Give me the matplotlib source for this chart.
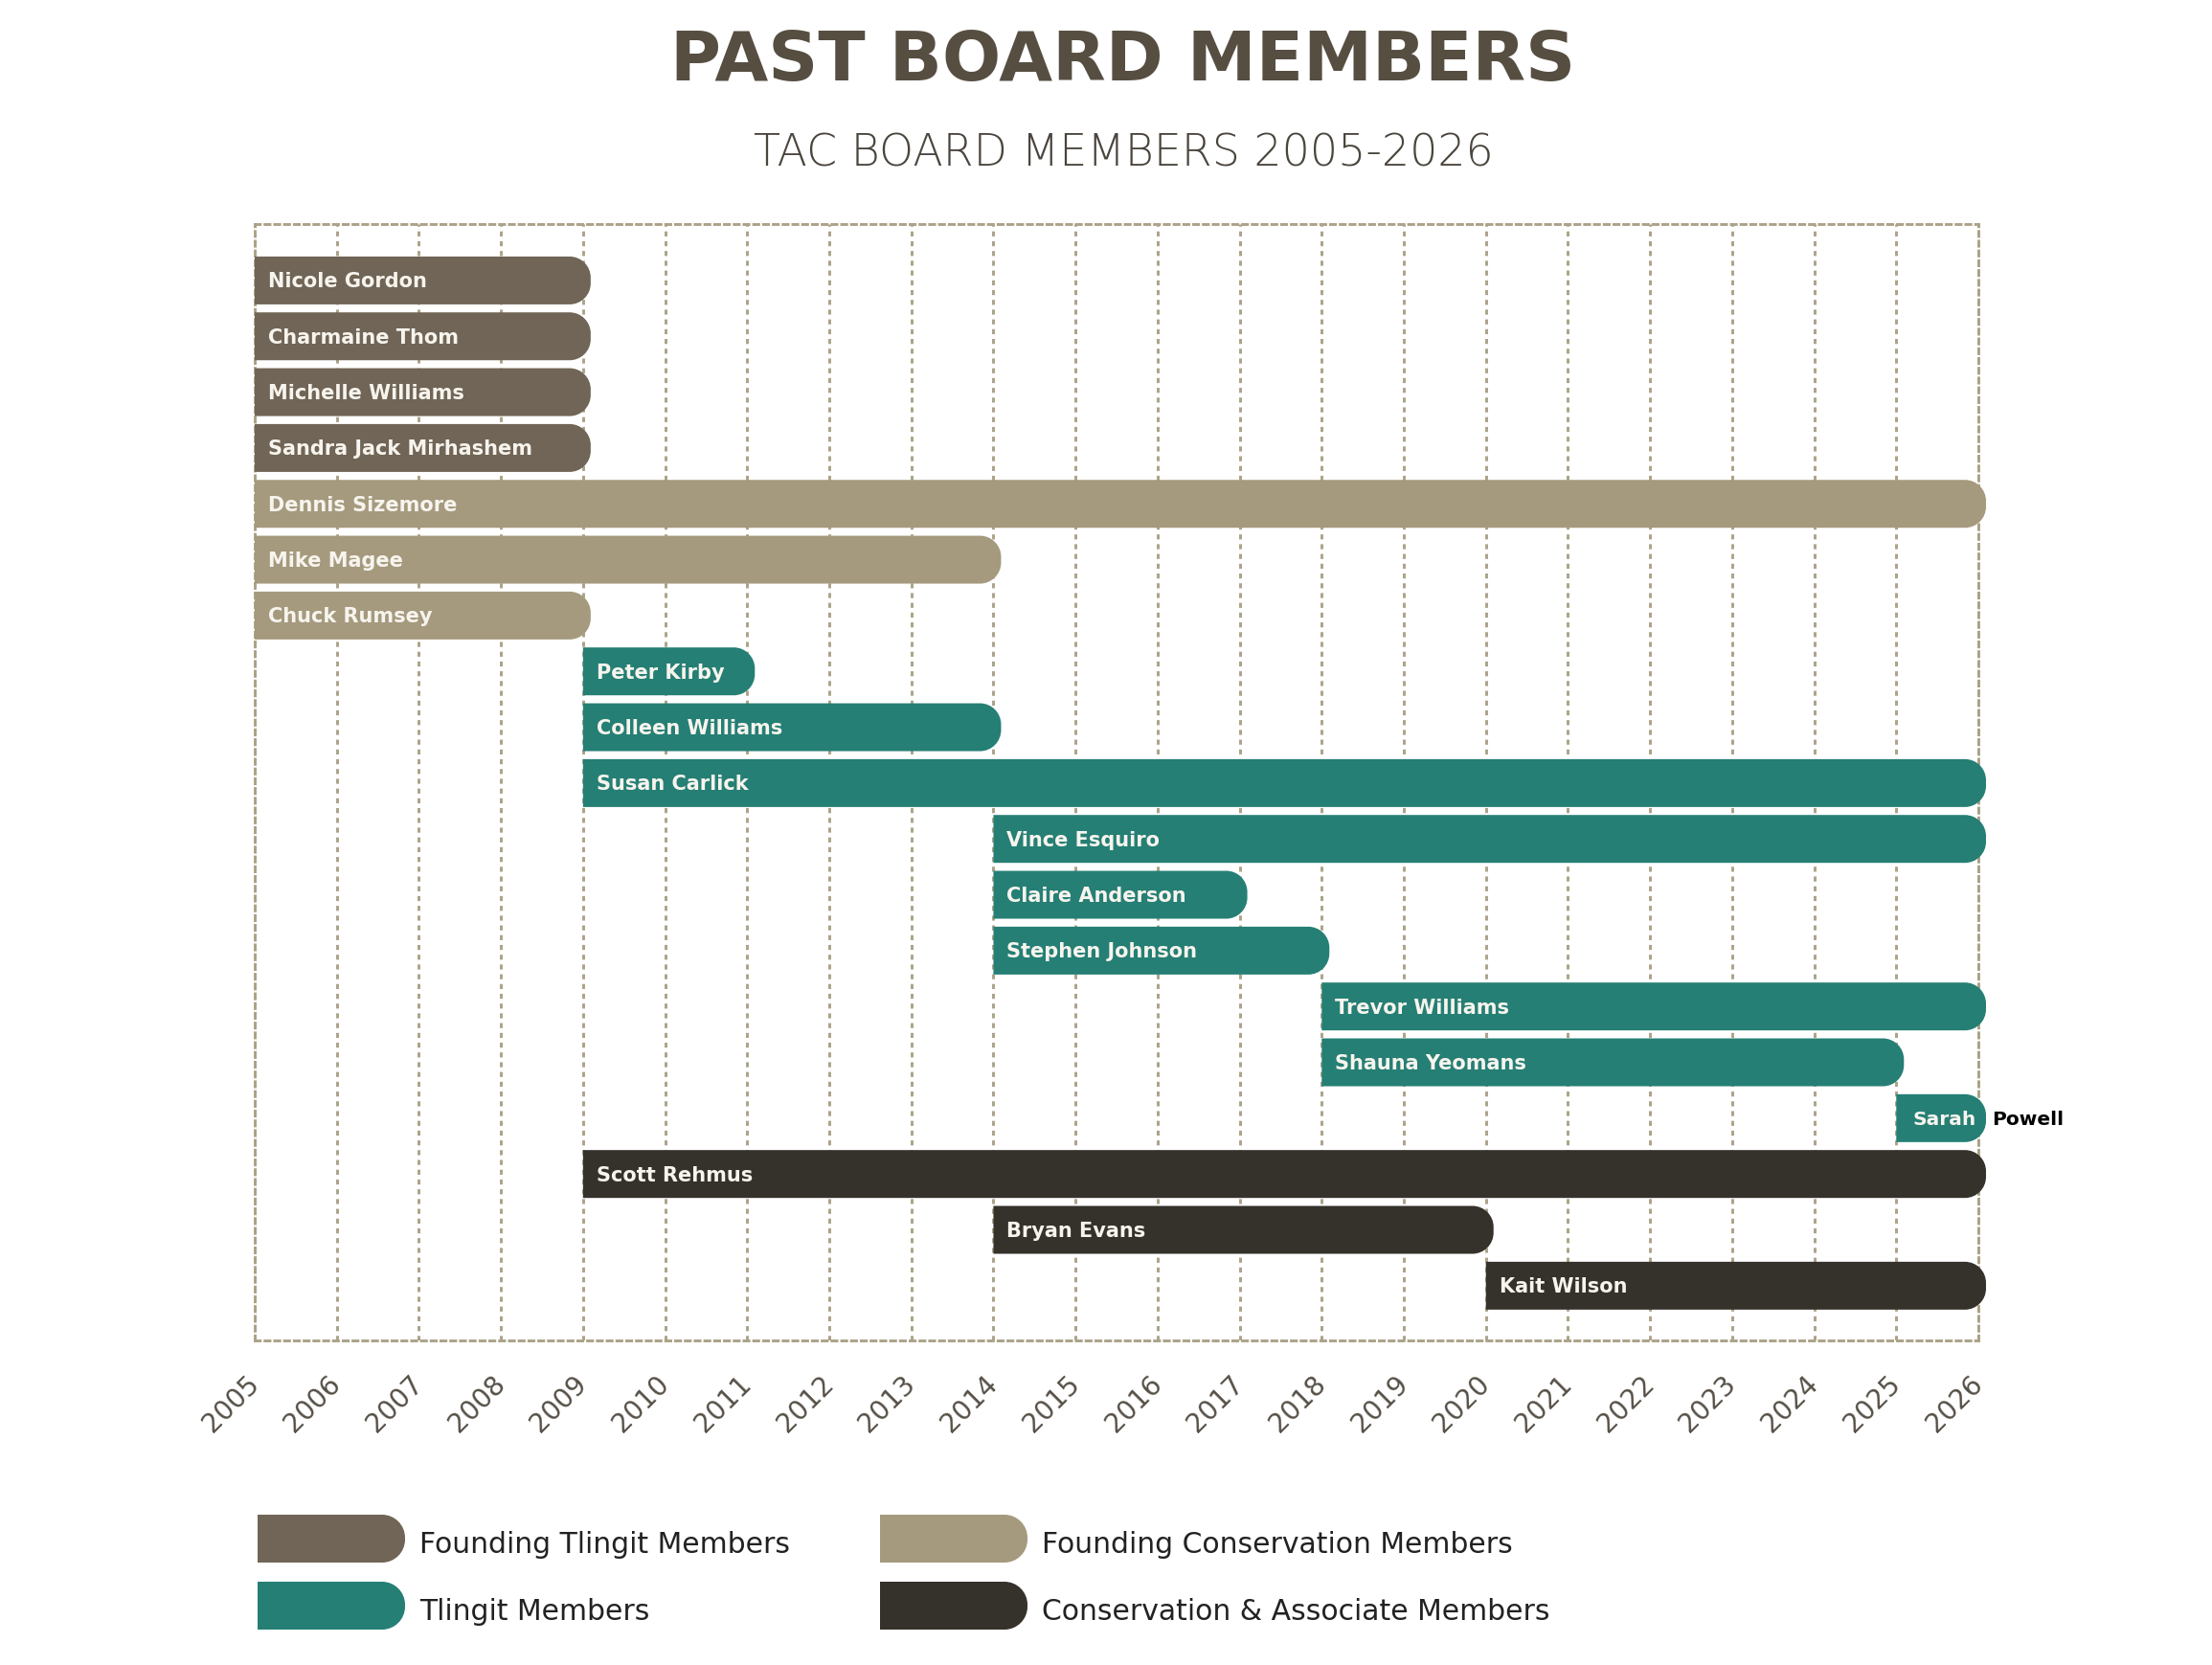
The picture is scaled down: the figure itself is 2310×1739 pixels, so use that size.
"""Board member timeline chart."""

import matplotlib
matplotlib.use("Agg")
import matplotlib.pyplot as plt
from matplotlib.path import Path
from matplotlib.patches import PathPatch

# --- data -----------------------------------------------------------------
names = [
    "Nicole Gordon", "Charmaine Thom", "Michelle Williams", "Sandra Jack Mirhashem",
    "Dennis Sizemore", "Mike Magee", "Chuck Rumsey",
    "Peter Kirby", "Colleen Williams", "Susan Carlick", "Vince Esquiro",
    "Claire Anderson", "Stephen Johnson", "Trevor Williams", "Shauna Yeomans",
    "Sarah Powell",
    "Scott Rehmus", "Bryan Evans", "Kait Wilson",
]
start_years = [2005, 2005, 2005, 2005, 2005, 2005, 2005,
               2009, 2009, 2009, 2014, 2014, 2014, 2018, 2018, 2025,
               2009, 2014, 2020]
end_years = [2009, 2009, 2009, 2009, 2026, 2014, 2009,
             2011, 2014, 2026, 2026, 2017, 2018, 2026, 2025, 2026,
             2026, 2020, 2026]
groups = ["ft"] * 4 + ["fc"] * 3 + ["t"] * 9 + ["c"] * 3

group_labels = {
    "ft": "Founding Tlingit Members",
    "fc": "Founding Conservation Members",
    "t": "Tlingit Members",
    "c": "Conservation & Associate Members",
}
group_colors = {"ft": "#706556", "fc": "#a59a7e", "t": "#257f74", "c": "#35312b"}
years = list(range(2005, 2027))

# --- layout ---------------------------------------------------------------
W, H, DPI = 2310, 1739, 100
fig = plt.figure(figsize=(W / DPI, H / DPI), dpi=DPI)
fig.patch.set_facecolor("white")

AX_L, AX_R, AX_T, AX_B = 266, 2066, 234, 1400
ax_box = [AX_L / W, 1 - AX_B / H, (AX_R - AX_L) / W, (AX_B - AX_T) / H]
ax = fig.add_axes(ax_box)
ylo, yhi = -1.01, len(names) - 1 + 0.98
ax.set_xlim(years[0], years[-1])
ax.set_ylim(yhi, ylo)

px_x = (AX_R - AX_L) / (years[-1] - years[0])   # pixels per year
px_y = (AX_B - AX_T) / (yhi - ylo)              # pixels per row

BAR_H = 50 / px_y
RADIUS = 22
OVERHANG = 8
LABEL_PAD = 14


def capsule(x0, x1, yc, h, r_px, ppx, ppy):
    """Square-left, round-right bar path in data coordinates."""
    rx, ry = r_px / ppx, r_px / ppy
    k = 0.5523
    top, bot = yc - h / 2, yc + h / 2
    verts = [
        (x0, top), (x1 - rx, top),
        (x1 - rx + k * rx, top), (x1, top + ry - k * ry), (x1, top + ry),
        (x1, bot - ry),
        (x1, bot - ry + k * ry), (x1 - rx + k * rx, bot), (x1 - rx, bot),
        (x0, bot), (x0, top),
    ]
    codes = [Path.MOVETO, Path.LINETO,
             Path.CURVE4, Path.CURVE4, Path.CURVE4,
             Path.LINETO,
             Path.CURVE4, Path.CURVE4, Path.CURVE4,
             Path.LINETO, Path.CLOSEPOLY]
    return Path(verts, codes)


grid_color = "#aba288"
dash = (0, (1.8, 1.7))
for yr in years:
    ax.axvline(yr, color=grid_color, lw=2.1, ls=dash, zorder=1)
for spine in ax.spines.values():
    spine.set_color(grid_color)
    spine.set_linewidth(2.1)
    spine.set_linestyle(dash)
    spine.set_zorder(1)

# baseline offset so capitals sit centred in each bar
base_off = 7.5 / px_y
for i, (name, s, e, g) in enumerate(zip(names, start_years, end_years, groups)):
    path = capsule(s, e + OVERHANG / px_x, i, BAR_H, RADIUS, px_x, px_y)
    ax.add_patch(PathPatch(path, facecolor=group_colors[g], edgecolor="none",
                           zorder=3, clip_on=False))
    if name == "Sarah Powell":
        first, last = name.split(" ")
        ax.text(s + 17 / px_x, i + base_off, first, color="#f7f4ee", fontsize=14.5,
                fontweight="bold", va="baseline", ha="left", zorder=4)
        ax.text(e + (OVERHANG + 6) / px_x, i + base_off, last, color="black",
                fontsize=14.5, fontweight="bold", va="baseline", ha="left",
                zorder=4, clip_on=False)
    else:
        ax.text(s + LABEL_PAD / px_x, i + base_off, name, color="#f7f4ee",
                fontsize=15, fontweight="bold", va="baseline", ha="left", zorder=4)

ax.set_yticks([])
ax.set_xticks(years)
ax.set_xticklabels([str(y) for y in years], rotation=45, ha="right",
                   va="center", rotation_mode="anchor", fontsize=20,
                   color="#554f46")
ax.tick_params(axis="x", length=0, pad=30)

# --- titles ---------------------------------------------------------------
cx = 1173 / W
fig.text(cx, 1 - 84 / H, "PAST BOARD MEMBERS", ha="center", va="baseline",
         fontsize=52, fontweight="bold", color="#574e42")
fig.text(cx, 1 - 174 / H, "TAC BOARD MEMBERS 2005-2026", ha="center",
         va="baseline", fontsize=33, fontweight="light", color="#4a453d")

# --- legend ---------------------------------------------------------------
lax = fig.add_axes([0, 0, 1, 1])
lax.set_xlim(0, W)
lax.set_ylim(H, 0)
lax.axis("off")
legend_slots = [("ft", 269, 1607), ("fc", 919, 1607), ("t", 269, 1677), ("c", 919, 1677)]
for g, lx, ly in legend_slots:
    lax.add_patch(PathPatch(capsule(lx, lx + 154, ly, 50, 24, 1, 1),
                            facecolor=group_colors[g], edgecolor="none"))
    lax.text(lx + 169, ly + 15, group_labels[g], ha="left", va="baseline",
             fontsize=21.5, color="#222222")

fig.savefig("out.png", dpi=DPI, facecolor="white")
plt.close(fig)
